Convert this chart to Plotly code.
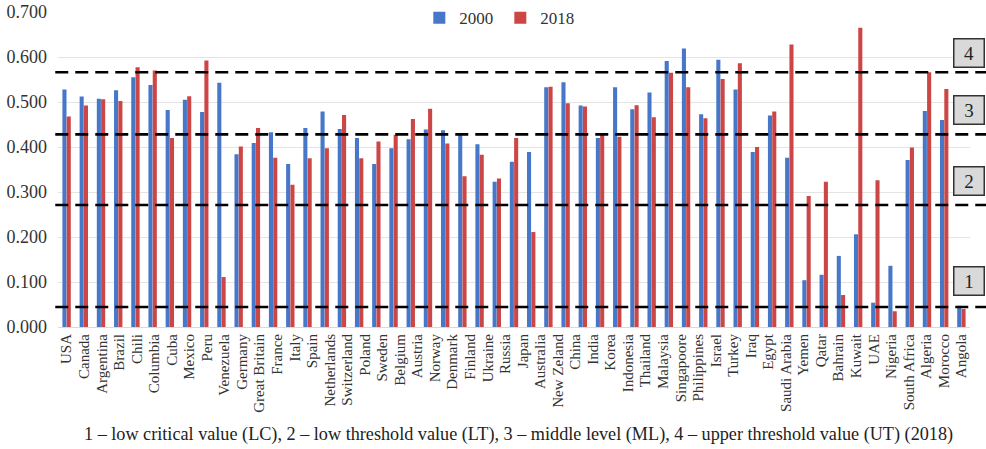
import numpy as np
import plotly.graph_objects as go

# Values (53 bar pairs drawn; 52 country labels printed)
v2000 = [0.528, 0.512, 0.507, 0.526, 0.555, 0.538, 0.482, 0.505, 0.478, 0.543,
         0.384, 0.409, 0.433, 0.362, 0.442, 0.479, 0.440, 0.420, 0.362, 0.397,
         0.417, 0.439, 0.437, 0.428, 0.406, 0.323, 0.367, 0.389, 0.533, 0.544,
         0.492, 0.420, 0.533, 0.484, 0.521, 0.591, 0.619, 0.473, 0.594, 0.528,
         0.389, 0.470, 0.376, 0.104, 0.116, 0.158, 0.206, 0.054, 0.136, 0.371,
         0.480, 0.460, 0.047]
v2018 = [0.468, 0.492, 0.506, 0.502, 0.577, 0.570, 0.420, 0.513, 0.592, 0.111,
         0.401, 0.442, 0.376, 0.316, 0.375, 0.397, 0.471, 0.375, 0.412, 0.427,
         0.462, 0.485, 0.408, 0.335, 0.383, 0.330, 0.420, 0.211, 0.534, 0.497,
         0.490, 0.427, 0.423, 0.493, 0.466, 0.565, 0.533, 0.464, 0.551, 0.586,
         0.400, 0.479, 0.628, 0.291, 0.323, 0.071, 0.665, 0.326, 0.035, 0.399,
         0.566, 0.529, 0.040]

country_labels = ["USA", "Canada", "Argentina", "Brazil", "Chili", "Columbia", "Cuba",
                  "Mexico", "Peru", "Venezuela", "Germany", "Great Britain", "France",
                  "Italy", "Spain", "Netherlands", "Switzerland", "Poland", "Sweden",
                  "Belgium", "Austria", "Norway", "Denmark", "Finland", "Ukraine",
                  "Russia", "Japan", "Australia", "New Zeland", "China", "India",
                  "Korea", "Indonesia", "Thailand", "Malaysia", "Singapoore",
                  "Philippines", "Israel", "Turkey", "Iraq", "Egypt", "Saudi Arabia",
                  "Yemen", "Qatar", "Bahrain", "Kuwait", "UAE", "Nigeria",
                  "South Africa", "Algeria", "Morocco", "Angola"]

# Threshold levels (2018)
levels = [0.0446, 0.271, 0.428, 0.566]
level_names = ["1", "2", "3", "4"]
level_box_y = [0.145, 0.465, 0.690, 0.871]

y_ticks = [0.0, 0.1, 0.2, 0.3, 0.4, 0.5, 0.6, 0.7]

caption = ("1 – low critical value (LC), 2 – low threshold value (LT), "
           "3 – middle level (ML), 4 – upper threshold value (UT) (2018)")

FONT = "Liberation Serif"
BLUE = "#4677C8"
RED = "#CC4646"

n = len(v2000)
xpos = np.arange(n)
tickpos = np.linspace(0, n - 1, len(country_labels))

fig = go.Figure()
fig.add_trace(go.Bar(x=xpos, y=v2000, name="2000", marker=dict(color=BLUE, line=dict(width=0))))
fig.add_trace(go.Bar(x=xpos, y=v2018, name="2018", marker=dict(color=RED, line=dict(width=0))))

for lv in levels:
    fig.add_shape(type="line", xref="paper", yref="y", x0=-0.003, x1=1.02, y0=lv, y1=lv,
                  line=dict(color="black", width=2.6, dash="13px,7px"), layer="above")

for name, by in zip(level_names, level_box_y):
    fig.add_annotation(xref="paper", yref="paper", x=0.9985, y=by, text=name,
                       showarrow=False, font=dict(family=FONT, size=19, color="#222"),
                       bgcolor="#d9d9d9", bordercolor="#333", borderwidth=1.5,
                       width=27, height=25, borderpad=1, xanchor="center", yanchor="middle")

fig.add_annotation(xref="paper", yref="paper", x=0.505, y=-0.342, text=caption,
                   showarrow=False, font=dict(family=FONT, size=18.2, color="#222"),
                   xanchor="center", yanchor="middle")

fig.update_layout(
    width=986, height=449,
    margin=dict(l=58, r=16, t=12, b=122, autoexpand=False),
    paper_bgcolor="white", plot_bgcolor="white",
    barmode="group", bargap=0.5, bargroupgap=0.05,
    font=dict(family=FONT, color="#333"),
    showlegend=True,
    legend=dict(orientation="h", x=0.485, xanchor="center", y=0.98, yanchor="middle",
                bgcolor="white", font=dict(family=FONT, size=17, color="#333"),
                itemwidth=30, entrywidth=36, tracegroupgap=0),
)
fig.update_xaxes(range=[-0.5, n - 0.5], tickmode="array", tickvals=tickpos,
                 ticktext=country_labels, tickangle=-90, tickfont=dict(family=FONT, size=15, color="#333"),
                 showgrid=False, showline=True, linecolor="#d9d9d9", linewidth=1,
                 ticks="", zeroline=False, automargin=False)
fig.update_yaxes(range=[0, 0.7], tickmode="array", tickvals=y_ticks, tickformat=".3f",
                 tickfont=dict(family=FONT, size=18, color="#333"),
                 showgrid=True, gridcolor="#e4e4e4", gridwidth=1, zeroline=False,
                 showline=False, ticks="", ticklabelstandoff=10, automargin=False)

fig.write_html("out.html", config={"displayModeBar": False},
               post_script="document.body.style.margin='0';")
